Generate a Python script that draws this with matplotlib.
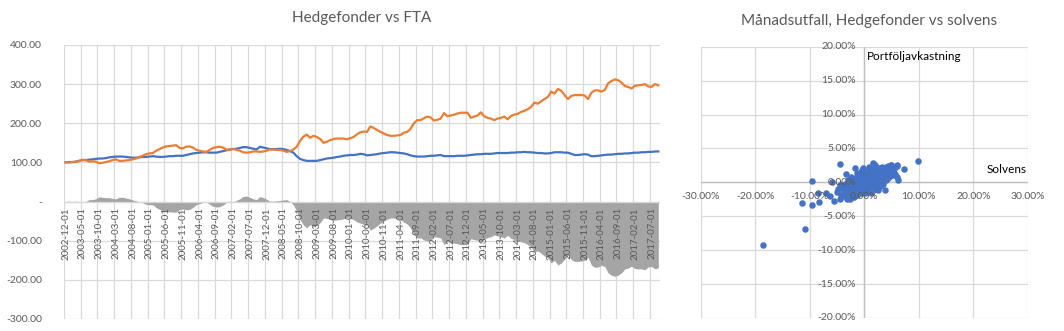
import matplotlib
matplotlib.use("Agg")
import matplotlib.pyplot as plt
import numpy as np
import pandas as pd

plt.rcParams['font.family'] = ['Lato', 'DejaVu Sans']

# ---------------- data ----------------
months = pd.date_range("2002-12-01", periods=178, freq="MS").strftime("%Y-%m-%d").tolist()

fta = [100, 100, 101, 101, 104, 107, 106, 102, 103, 102,
       98, 99, 101, 103, 106, 108, 104, 104, 105, 106,
       108, 110, 114, 117, 121, 123, 124, 130, 134, 138,
       141, 142, 143, 144, 137, 136, 140, 141, 138, 132,
       130, 128, 127, 132, 137, 139, 140, 138, 133, 132,
       135, 132, 130, 126, 125, 126, 128, 128, 127, 128,
       130, 133, 133, 132, 132, 130, 127, 129, 133, 140,
       155, 166, 171, 163, 168, 165, 160, 150, 153, 157,
       160, 161, 161, 161, 159, 162, 165, 172, 177, 179,
       178, 192, 188, 183, 178, 174, 170, 168, 168, 169,
       170, 176, 178, 186, 200, 208, 208, 213, 217, 215,
       207, 209, 212, 226, 218, 220, 222, 225, 227, 227,
       227, 214, 217, 220, 228, 218, 214, 212, 208, 212,
       214, 217, 210, 219, 222, 224, 229, 232, 236, 242,
       253, 250, 256, 262, 267, 281, 276, 288, 283, 272,
       262, 270, 272, 272, 272, 271, 262, 278, 284, 284,
       281, 285, 302, 308, 312, 310, 304, 295, 293, 289,
       296, 297, 298, 300, 294, 293, 300, 297]

hedge = [100, 101, 101, 102, 104, 106, 106, 107, 108, 109,
         110, 110, 111, 113, 114, 115, 115, 115, 114, 113,
         112, 112, 113, 114, 114, 115, 116, 115, 114, 114,
         115, 116, 116, 117, 117, 117, 119, 121, 123, 124,
         125, 126, 126, 125, 125, 125, 127, 129, 131, 133,
         134, 135, 137, 139, 139, 137, 135, 133, 140, 138,
         136, 134, 134, 134, 135, 134, 132, 129, 125, 116,
         109, 106, 104, 104, 104, 104, 106, 108, 110, 111,
         112, 114, 115, 117, 118, 119, 119, 120, 122, 121,
         118, 119, 120, 121, 123, 124, 125, 126, 126, 125,
         124, 123, 121, 118, 116, 115, 115, 115, 116, 117,
         117, 118, 119, 116, 116, 116, 116, 117, 117, 117,
         118, 119, 120, 121, 121, 122, 122, 122, 123, 124,
         124, 124, 124, 125, 125, 126, 126, 127, 126, 126,
         125, 124, 124, 123, 123, 124, 126, 126, 126, 125,
         125, 122, 119, 119, 120, 121, 120, 116, 116, 117,
         118, 119, 120, 120, 121, 122, 122, 123, 123, 124,
         125, 125, 126, 126, 127, 127, 128, 128]

# monthly outcomes (%): solvens (x) vs portfolio return (y)
solvens = [-18.5, -10.9, -11.4, -9.6, -9.6, -8.5, -8.4, -7.1, -6.3, -5.5,
           -6.0, -4.4, -4.4, -5.1, -3.2, -2.6, -3.4, 9.8, 7.3, 6.2,
           6.0, 4.8, 3.8, 1.5, 2.5, -1.7,
           -4.8, -4.5, -4.2, -4.0, -3.8, -3.6, -3.5, -3.3, -3.1, -3.0,
           -2.9, -2.8, -2.6, -2.5, -2.4, -2.3, -2.2, -2.0, -1.9, -1.8,
           -1.7, -1.6, -1.5, -1.4, -1.3, -1.2, -1.1, -1.0, -0.9, -0.8,
           -0.7, -0.6, -0.5, -0.5, -0.4, -0.3, -0.2, -0.1, 0.0, 0.0,
           0.1, 0.2, 0.3, 0.3, 0.4, 0.5, 0.6, 0.7, 0.8, 0.9,
           1.0, 1.0, 1.1, 1.2, 1.3, 1.4, 1.5, 1.6, 1.7, 1.8,
           1.9, 2.0, 2.1, 2.2, 2.3, 2.4, 2.6, 2.7, 2.8, 2.9,
           3.0, 3.1, 3.2, 3.3, 3.4, 3.5, 3.6, 3.7, 3.8, 3.9,
           4.0, 4.1, 4.2, 4.3, 4.4, 4.5, 4.6, 4.7, 4.9, 5.0,
           5.2, 5.3, 5.5, 5.7, 5.9, 6.0, -3.2, -2.7, -2.1, -1.4,
           -0.8, 0.5, 1.2, 0.8, 2.0, -0.3, -1.0, 2.5, 3.0, 0.2,
           -0.6, 1.8]
portfolj = [-9.3, -6.9, -3.0, -3.4, 0.2, -1.6, -2.9, -1.6, -2.0, -2.8,
            0.1, 2.7, -2.5, -1.4, -2.5, -2.5, 1.2, 3.1, 2.0, 0.3,
            2.5, 2.5, -1.2, 2.8, -1.2, 2.1,
            -1.0, -0.4, -1.8, -0.8, -1.3, -2.0, -0.2, -1.0, -1.6, 0.4,
            -0.6, -1.9, -1.2, 0.8, -0.3, -1.5, -0.8, 0.2, -2.2, -1.0,
            0.6, -0.5, -1.4, 0.1, 1.4, -0.9, 0.4, -0.2, -1.3, 0.9,
            0.0, -0.6, 1.8, 0.5, -1.0, 0.2, -0.4, 1.1, 0.4, -0.2,
            -0.8, 0.7, 1.5, 0.1, -0.5, 0.9, 0.3, -0.1, 1.3, 0.6,
            -0.7, 0.2, 2.0, 1.0, 0.4, -0.3, 1.5, 0.8, 0.1, 1.9,
            -1.0, 1.2, 0.5, 1.6, -0.2, 0.9, 2.1, 0.3, 1.4, -0.6,
            1.0, 1.8, 0.5, 2.2, -0.2, 1.3, 0.8, 2.0, 1.5, 0.3,
            2.3, 1.1, 1.7, 0.7, 2.4, 1.4, 2.0, 0.9, 2.5, 1.6,
            2.2, 1.1, 1.9, 1.3, 2.4, 0.8, -0.6, 0.0, -1.6, -1.9,
            -1.5, -1.2, -1.5, 2.3, 2.5, 2.1, 1.3, -0.9, -0.4, -1.6,
            1.5, 0.2]

left_yticks = [400, 300, 200, 100, 0, -100, -200, -300]
sc_xticks = [-30, -20, -10, 0, 10, 20, 30]
sc_yticks = [20, 15, 10, 5, 0, -5, -10, -15, -20]

# ---------------- styling ----------------
ORANGE = "#ED7D31"
BLUE = "#4472C4"
GRAYAREA = "#A5A5A5"
GRID = "#D9D9D9"
TXT = "#595959"

W, H = 1064, 331
fig = plt.figure(figsize=(W / 100, H / 100), dpi=100)

# ---------------- left chart ----------------
ax = fig.add_axes([64 / W, 1 - 319 / H, 596 / W, 274 / H])
n = len(months)
x = np.arange(n)
hedge_a = np.array(hedge, dtype=float)
fta_a = np.array(fta, dtype=float)
diff = hedge_a - fta_a

ax.set_xlim(-0.5, n - 0.5)
ax.set_ylim(-300, 400)
for v in left_yticks:
    ax.axhline(v, color=GRID, lw=0.9, zorder=0)
for k in range(0, n, 5):
    ax.axvline(k - 0.5, color=GRID, lw=0.9, zorder=0)

ax.fill_between(x, 0, diff, color=GRAYAREA, lw=0, zorder=1)
ax.axhline(0, color=GRID, lw=0.9, zorder=1.5)
ax.plot(x, hedge_a, color=BLUE, lw=1.6, zorder=3)
ax.plot(x, fta_a, color=ORANGE, lw=1.6, zorder=3)

for s in ax.spines.values():
    s.set_visible(False)
ax.set_xticks([])
ax.set_yticks(left_yticks)
ax.set_yticklabels(["-" if v == 0 else f"{v:.2f}" for v in left_yticks],
                   fontsize=7.5, color=TXT)
ax.tick_params(axis="y", length=0, pad=16)
for k in range(0, n, 5):
    ax.annotate(months[k], xy=(k, 0), xytext=(0, -4), textcoords="offset points",
                rotation=90, ha="center", va="top", fontsize=7, color=TXT,
                zorder=4)
fig.text((64 + 660) / 2 / W, 1 - 18 / H, "Hedgefonder vs FTA", ha="center",
         va="center", fontsize=11, color=TXT)

# ---------------- scatter ----------------
ax2 = fig.add_axes([700.7 / W, 1 - 318 / H, 327.3 / W, 271.3 / H])
ax2.set_xlim(-30, 30)
ax2.set_ylim(-20, 20)
for v in sc_xticks:
    ax2.axvline(v, color=GRID, lw=0.9, zorder=0)
for v in sc_yticks:
    ax2.axhline(v, color=GRID, lw=0.9, zorder=0)
ax2.axhline(0, color="#BFBFBF", lw=1.0, zorder=0.5)
ax2.axvline(0, color="#BFBFBF", lw=1.0, zorder=0.5)
for s in ax2.spines.values():
    s.set_visible(False)
ax2.set_xticks([])
ax2.set_yticks([])
ax2.scatter(solvens, portfolj, s=22, color=BLUE, lw=0, zorder=3)

for v in sc_xticks:
    ax2.annotate(f"{v:.2f}%", xy=(v, 0), xytext=(0, -7), textcoords="offset points",
                 ha="center", va="top", fontsize=7.5, color=TXT, zorder=4)
for v in sc_yticks:
    ax2.annotate(f"{v:.2f}%", xy=(0, v), xytext=(-6, 0), textcoords="offset points",
                 ha="right", va="center", fontsize=7.5, color=TXT, zorder=4)
ax2.text(0.4, 18.6, "Portföljavkastning", ha="left", va="center", fontsize=8.5,
         color="black", zorder=5)
ax2.text(22.4, 1.9, "Solvens", ha="left", va="center", fontsize=8.5,
         color="black", zorder=5)
fig.text(869 / W, 1 - 21 / H, "Månadsutfall, Hedgefonder vs solvens", ha="center",
         va="center", fontsize=11, color=TXT)

fig.savefig("out.png", dpi=100)
